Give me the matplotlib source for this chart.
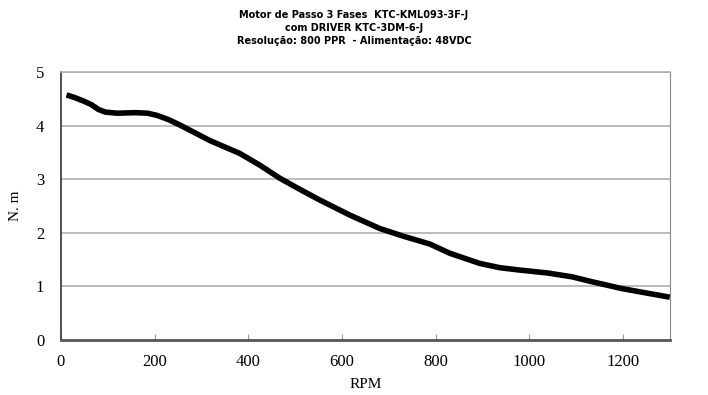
import matplotlib
matplotlib.use("Agg")
import matplotlib.pyplot as plt

# torque curve
rpm = [12, 30, 50, 65, 80, 95, 120, 160, 185, 205, 230, 254, 318, 382, 425,
       467, 506, 553, 617, 681, 730, 788, 830, 894, 937, 975, 1040, 1091,
       1133, 1198, 1255, 1300]
torque = [4.57, 4.52, 4.45, 4.39, 4.30, 4.25, 4.23, 4.24, 4.23, 4.19, 4.11,
          4.01, 3.72, 3.48, 3.26, 3.02, 2.83, 2.61, 2.33, 2.08, 1.94, 1.79,
          1.62, 1.43, 1.35, 1.31, 1.25, 1.18, 1.09, 0.96, 0.87, 0.80]

xticks = [0, 200, 400, 600, 800, 1000, 1200]
yticks = [0, 1, 2, 3, 4, 5]
title_lines = ["Motor de Passo 3 Fases  KTC-KML093-3F-J",
               "com DRIVER KTC-3DM-6-J",
               "Resolução: 800 PPR  - Alimentação: 48VDC"]

fig = plt.figure(figsize=(7.08, 3.95), dpi=100)
ax = fig.add_axes([0.086, 0.139, 0.86, 0.679])

ax.plot(rpm, torque, color="black", lw=4, solid_joinstyle="round",
        solid_capstyle="butt", zorder=3)

ax.set_xlim(0, 1300)
ax.set_ylim(0, 5)
ax.set_xticks(xticks)
ax.set_yticks(yticks)
for y in yticks[1:]:
    ax.axhline(y, color="#b0b0b0", lw=1.2, zorder=1)

serif = "Liberation Serif"
for lab in ax.get_xticklabels() + ax.get_yticklabels():
    lab.set_fontfamily(serif)
    lab.set_fontsize(12)
ax.tick_params(axis="x", direction="in", length=4, color="#999999", pad=10)
ax.tick_params(axis="y", length=0, pad=12)

ax.spines["left"].set_color("#333333")
ax.spines["left"].set_linewidth(1.2)
ax.spines["bottom"].set_color("#555555")
ax.spines["bottom"].set_linewidth(2)
ax.spines["right"].set_color("#888888")
ax.spines["top"].set_color("#b0b0b0")
ax.spines["top"].set_linewidth(1.2)

ax.set_xlabel("RPM", fontfamily=serif, fontsize=11, labelpad=6)
ax.set_ylabel("N. m", fontfamily=serif, fontsize=11, labelpad=10)

for i, line in enumerate(title_lines):
    fig.text(0.5, 0.962 - i * 0.033, line, ha="center", va="center",
             fontsize=7, fontweight="bold", fontfamily="DejaVu Sans")

fig.savefig("out.png", dpi=100)
